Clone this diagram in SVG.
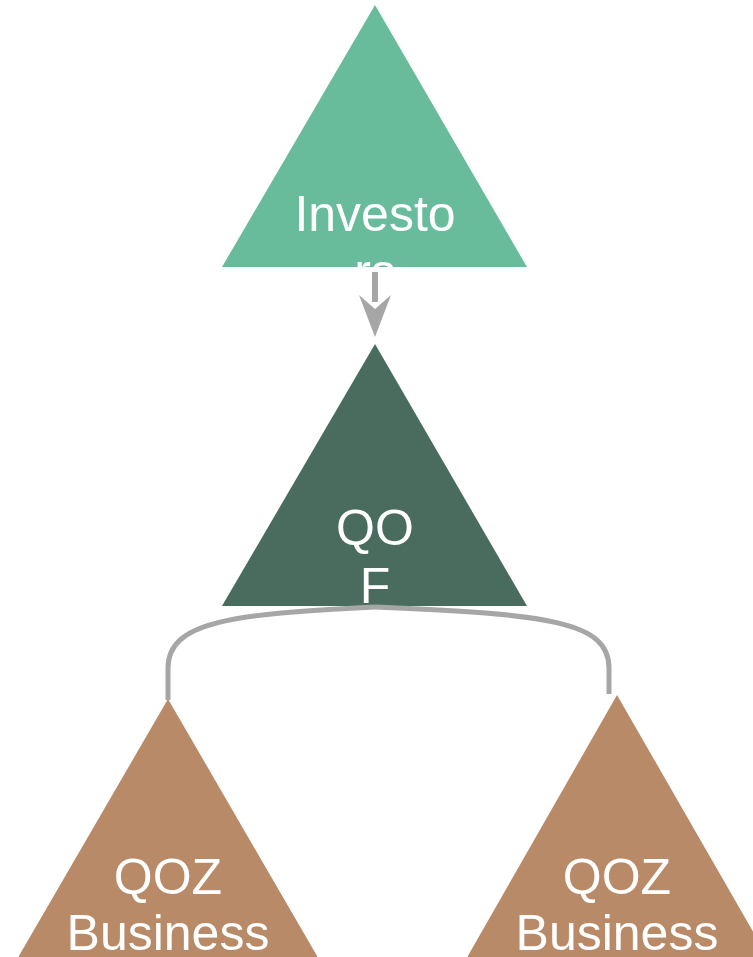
<svg xmlns="http://www.w3.org/2000/svg" width="753" height="957" viewBox="0 0 753 957">
<style>
.lbl{font-family:"Liberation Sans",Arial,sans-serif;font-size:50px;fill:#ffffff;text-anchor:middle}
.edge{fill:none;stroke:#a6a6a6;stroke-width:5}
</style>
<rect width="753" height="957" fill="#ffffff"/>
<g id="investors">
<polygon points="375,5 527,267 222,267" fill="#68bc9c"/>
<text class="lbl" x="375" y="231">Investo</text>
<text class="lbl" x="375" y="289">rs</text>
</g>
<g id="qof">
<polygon points="375,344 527,606 222,606" fill="#496c5e"/>
<text class="lbl" x="375" y="545">QO</text>
<text class="lbl" x="375" y="603">F</text>
</g>
<g id="qoz1">
<polygon points="168,699 320,961 16,961" fill="#b88a67"/>
<text class="lbl" x="168" y="894">QOZ</text>
<text class="lbl" x="168" y="950">Business</text>
</g>
<g id="qoz2">
<polygon points="617,695 770,961 465,961" fill="#b88a67"/>
<text class="lbl" x="617" y="894">QOZ</text>
<text class="lbl" x="617" y="950">Business</text>
</g>
<g id="connectors">
<path class="edge" d="M375,272 L375,302" style="stroke-width:6"/>
<path d="M359,295 L375,337 L391,295 L375,309 Z" fill="#a6a6a6"/>
<path class="edge" d="M375,607 C230,614 168,622 168,668 L168,700"/>
<path class="edge" d="M375,607 C550,614 609,622 609,668 L609,694"/>
</g>
</svg>
